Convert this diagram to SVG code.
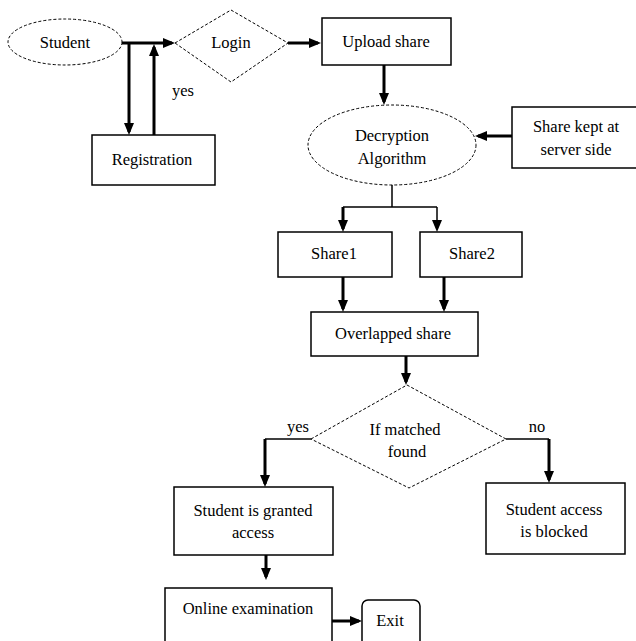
<svg xmlns="http://www.w3.org/2000/svg" width="636" height="641" viewBox="0 0 636 641">
<style>
text{font-family:"Liberation Serif","Times New Roman",serif;font-size:16.5px;fill:#000;text-anchor:middle}
.box{fill:#fff;stroke:#000;stroke-width:1.5}
.dash{fill:#fff;stroke:#000;stroke-width:1;stroke-dasharray:3 2}
.thick{fill:none;stroke:#000;stroke-width:3}
.thin{fill:none;stroke:#000;stroke-width:1.5}
.arr{marker-end:url(#ah)}
</style>
<defs>
<marker id="ah" markerUnits="userSpaceOnUse" markerWidth="12" markerHeight="10" refX="9" refY="5" orient="auto" viewBox="0 0 12 10">
<path d="M0,0 L12,5 L0,10 z" fill="#000"/>
</marker>
</defs>
<rect width="636" height="641" fill="#fff"/>
<g id="connectors">
<path class="thick arr" d="M122,43 H172"/>
<path class="thick arr" d="M129,43 V132"/>
<path class="thick arr" d="M154,135 V47"/>
<path class="thick arr" d="M288,43 H318"/>
<path class="thick arr" d="M384,65 V102"/>
<path class="thick arr" d="M512,136 H478"/>
<path class="thin" d="M392,185 V207 M343,207 H437"/>
<path class="thick arr" d="M343,207 V229"/>
<path class="thin arr" d="M437,207 V229"/>
<path class="thick arr" d="M343,277 V309"/>
<path class="thick arr" d="M444,277 V309"/>
<path class="thick arr" d="M406,356 V382"/>
<path class="thin" d="M311,439 H265"/>
<path class="thick arr" d="M265,439 V484"/>
<path class="thin" d="M506,439 H549"/>
<path class="thick arr" d="M549,439 V480"/>
<path class="thick arr" d="M266,555 V577"/>
<path class="thick arr" d="M332,621 H359"/>
</g>
<g id="student"><ellipse class="dash" cx="65" cy="42" rx="57" ry="23"/><text x="65" y="48">Student</text></g>
<g id="login"><polygon class="dash" points="175,43 231,10 288,43 231,82"/><text x="231" y="48">Login</text></g>
<g id="yes1"><text x="183" y="96">yes</text></g>
<g id="registration"><rect class="box" x="92" y="135" width="123" height="50"/><text x="152" y="165">Registration</text></g>
<g id="upload"><rect class="box" x="322" y="18" width="129" height="47"/><text x="386" y="47">Upload share</text></g>
<g id="decryption"><ellipse class="dash" cx="392" cy="145" rx="84" ry="40"/><text x="392" y="141">Decryption</text><text x="392" y="164">Algorithm</text></g>
<g id="serverside"><rect class="box" x="512" y="107" width="130" height="61"/><text x="576" y="132">Share kept at</text><text x="576" y="155">server side</text></g>
<g id="share1"><rect class="box" x="278" y="232" width="114" height="45"/><text x="334" y="259">Share1</text></g>
<g id="share2"><rect class="box" x="420" y="232" width="102" height="45"/><text x="472" y="259">Share2</text></g>
<g id="overlapped"><rect class="box" x="311" y="312" width="167" height="44"/><text x="393" y="339">Overlapped share</text></g>
<g id="match"><polygon class="dash" points="311,439 407,385 506,439 409,488"/><text x="405" y="435">If matched</text><text x="407" y="457">found</text></g>
<g id="yes2"><text x="298" y="432">yes</text></g>
<g id="no"><text x="537" y="432">no</text></g>
<g id="granted"><rect class="box" x="174" y="487" width="159" height="68"/><text x="253" y="516">Student is granted</text><text x="253" y="538">access</text></g>
<g id="blocked"><rect class="box" x="486" y="483" width="139" height="71"/><text x="554" y="515">Student access</text><text x="554" y="537">is blocked</text></g>
<g id="online"><rect class="box" x="165" y="588" width="167" height="60"/><text x="248" y="614">Online examination</text></g>
<g id="exit"><rect class="box" x="362" y="600" width="58" height="50" rx="6"/><text x="390" y="626">Exit</text></g>
</svg>
